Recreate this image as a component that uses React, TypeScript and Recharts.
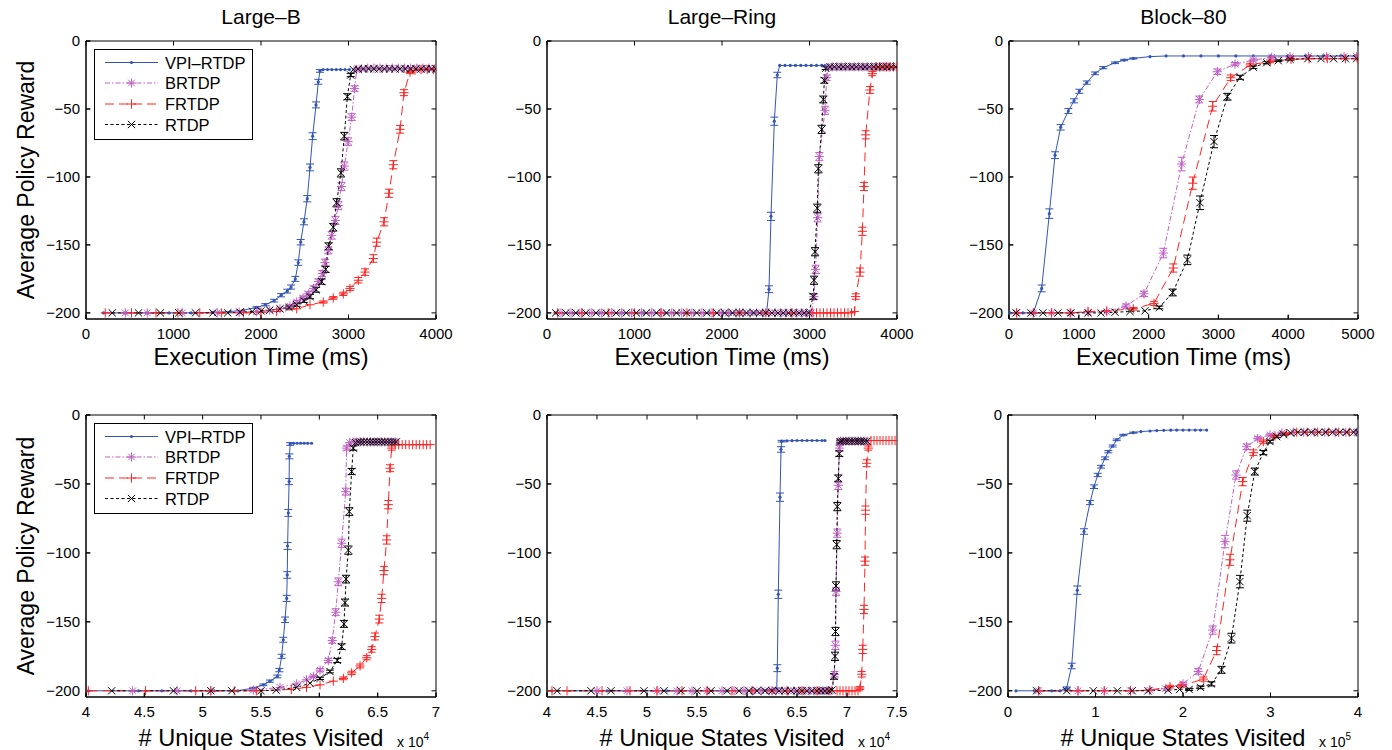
import { LineChart, Line, XAxis, YAxis, ErrorBar, Legend, ReferenceArea, ReferenceLine } from "recharts";

type Row = [number, number, number?];

const FONT = "'Liberation Sans', Arial, Helvetica, sans-serif";

const seriesNames = ["VPI–RTDP", "BRTDP", "FRTDP", "RTDP"];
const panelTitles = ["Large–B", "Large–Ring", "Block–80"];
const timeLabel = "Execution Time (ms)";
const statesLabel = "# Unique States Visited";
const rewardLabel = "Average Policy Reward";

const yTicks = [-200, -150, -100, -50, 0];
const xTicksTime4k = [0, 1000, 2000, 3000, 4000];
const xTicksTime5k = [0, 1000, 2000, 3000, 4000, 5000];
const xTicksLargeB = [4, 4.5, 5, 5.5, 6, 6.5, 7];
const xTicksRing = [4, 4.5, 5, 5.5, 6, 6.5, 7, 7.5];
const xTicksBlock = [0, 1, 2, 3, 4];

// ---- Large-B, time (ms)  [x, reward, err]
const lbTimeVpi: Row[] = [
  [200, -200], [450, -200], [700, -200], [950, -200], [1200, -200], [1450, -199.6], [1650, -199], [1800, -198],
  [1950, -196, 0.6], [2050, -194, 0.8], [2150, -191, 1], [2230, -187, 1.2], [2300, -184, 1.4], [2343, -181, 1.5],
  [2392, -175, 1.8], [2426, -163, 2], [2453, -148, 2], [2491, -133, 2.2], [2529, -116, 2.3], [2560, -93, 2.5],
  [2590, -70, 2.5], [2629, -47, 2.2], [2655, -30, 1.8], [2674, -22, 1], [2710, -21], [2760, -21], [2810, -21],
  [2860, -21], [2910, -21], [2960, -21], [3010, -21],
];
const lbTimeBrtdp: Row[] = [
  [450, -200], [700, -200], [1100, -200], [1500, -200], [1750, -199.5], [1950, -199], [2100, -198], [2217, -197],
  [2330, -195, 1], [2408, -192, 1.2], [2480, -189, 1.4], [2541, -186, 1.6], [2600, -182, 1.8], [2655, -177, 2],
  [2700, -171, 2.2], [2731, -163, 2.5], [2770, -154, 2.6], [2808, -143, 2.8], [2850, -132, 3], [2884, -121, 3],
  [2920, -107, 3], [2952, -92, 3], [2995, -74, 2.8], [3036, -56, 2.5], [3070, -35, 2], [3093, -21, 1],
  [3150, -20.5], [3220, -20], [3290, -20], [3360, -20], [3430, -20], [3500, -20], [3570, -20], [3640, -20],
  [3710, -20], [3780, -20], [3850, -20], [3920, -20], [3990, -20],
];
const lbTimeFrtdp: Row[] = [
  [220, -200], [520, -200], [800, -200], [1050, -200], [1300, -200], [1550, -200], [1800, -200], [2000, -199.5],
  [2179, -199], [2408, -197], [2560, -194], [2712, -192, 0.8], [2826, -189, 1], [2941, -186, 1.2], [3017, -182, 1.5],
  [3112, -176, 2], [3189, -170, 2.4], [3284, -160, 2.8], [3322, -148, 3], [3406, -133, 3], [3463, -112, 3],
  [3512, -91, 3], [3589, -65, 2.8], [3634, -38, 2.2], [3703, -23, 1], [3760, -21.5], [3830, -21], [3900, -21],
  [3970, -21],
];
const lbTimeRtdp: Row[] = [
  [300, -200], [600, -200], [850, -200], [1060, -200], [1250, -200], [1450, -200], [1620, -200], [1760, -199.5],
  [1900, -199], [2000, -198.5], [2100, -198], [2217, -197], [2320, -196, 1], [2408, -194, 1.2], [2490, -191, 1.4],
  [2560, -188, 1.6], [2630, -183, 1.8], [2693, -177, 2], [2739, -168, 2.2], [2773, -151, 2.5], [2826, -137, 2.8],
  [2864, -119, 3], [2914, -97, 3], [2952, -70, 2.8], [2987, -41, 2.2], [3025, -25, 1.2], [3055, -21],
  [3110, -20.5], [3170, -20.5], [3230, -20.5], [3290, -20.5], [3350, -20.5], [3410, -20.5], [3470, -20.5],
  [3530, -20.5], [3590, -20.5], [3650, -20.5], [3710, -20.5], [3770, -20.5], [3830, -20.5], [3890, -20.5],
  [3950, -20.5], [4000, -20.5],
];

// ---- Large-Ring, time (ms)
const lrTimeVpi: Row[] = [
  [100, -200], [350, -200], [600, -200], [850, -200], [1100, -200], [1350, -200], [1600, -200], [1850, -200],
  [2100, -200], [2350, -200], [2510, -200], [2537, -182.6, 2.5], [2560, -129, 3], [2598, -59, 3], [2632, -25, 2],
  [2660, -18], [2720, -18], [2780, -18], [2840, -18], [2900, -18], [2960, -18], [3020, -18], [3080, -18],
  [3140, -18], [3180, -18],
];
const lrTimeBrtdp: Row[] = [
  [160, -200], [275, -200], [390, -200], [505, -200], [620, -200], [735, -200], [850, -200], [965, -200],
  [1080, -200], [1195, -200], [1310, -200], [1425, -200], [1540, -200], [1655, -200], [1770, -200], [1885, -200],
  [1990, -200], [2075, -200], [2160, -200], [2240, -200], [2320, -200], [2395, -200], [2465, -200], [2535, -200],
  [2605, -200], [2670, -200], [2730, -200], [2790, -200], [2850, -200], [2910, -200], [2965, -200], [3020, -200],
  [3051, -188, 2], [3070, -168, 3], [3093, -130, 3], [3112, -85, 3], [3177, -51, 3], [3196, -27, 2],
  [3215, -19.5, 1], [3260, -19], [3310, -19], [3360, -19], [3410, -19], [3460, -19], [3510, -19], [3560, -19],
  [3610, -19], [3660, -19], [3710, -19], [3760, -19], [3810, -19], [3860, -19], [3910, -19], [3960, -19],
];
const lrTimeFrtdp: Row[] = [
  [120, -200], [400, -200], [700, -200], [1000, -200], [1300, -200], [1600, -200], [1900, -200], [2200, -200],
  [2500, -200], [2800, -200], [3040, -200], [3080, -200], [3120, -200], [3160, -200], [3200, -200], [3240, -200],
  [3280, -200], [3320, -200], [3360, -200], [3400, -200], [3440, -200], [3480, -200], [3515, -199],
  [3528, -188, 2], [3577, -170, 3], [3604, -140, 3], [3623, -107, 3], [3642, -69, 3], [3691, -36, 2.5],
  [3718, -24, 1.5], [3760, -19], [3800, -19], [3840, -19], [3880, -19], [3920, -19], [3960, -19], [3995, -19],
];
const lrTimeRtdp: Row[] = [
  [100, -200], [215, -200], [330, -200], [445, -200], [560, -200], [675, -200], [790, -200], [905, -200],
  [1020, -200], [1135, -200], [1250, -200], [1365, -200], [1480, -200], [1595, -200], [1710, -200], [1825, -200],
  [1940, -200], [2030, -200], [2120, -200], [2200, -200], [2280, -200], [2360, -200], [2430, -200], [2500, -200],
  [2570, -200], [2640, -200], [2700, -200], [2760, -200], [2820, -200], [2880, -200], [2940, -200], [2990, -200],
  [3043, -188, 2], [3051, -176, 3], [3063, -155, 3], [3089, -123, 3], [3101, -94, 3], [3139, -65, 3],
  [3158, -43, 2.5], [3170, -29, 2], [3185, -20, 1], [3235, -19], [3285, -19], [3335, -19], [3385, -19],
  [3435, -19], [3485, -19], [3535, -19], [3585, -19], [3635, -19], [3685, -19], [3735, -19], [3785, -19],
  [3835, -19], [3885, -19], [3935, -19], [3985, -19],
];

// ---- Block-80, time (ms)
const blTimeVpi: Row[] = [
  [14, -200], [200, -200], [348, -200, 0.5], [468, -182, 2.5], [578, -127, 3.5], [659, -84, 2.5], [740, -63.5, 2],
  [850, -51.5, 1.8], [931, -44, 1.5], [1008, -37, 1.5], [1113, -30.6, 1.2], [1232, -23.8, 1], [1351, -19.6, 0.8],
  [1519, -16, 0.6], [1650, -14, 0.5], [1781, -12.8, 0.4], [2020, -11.5], [2250, -11], [2500, -11], [2750, -11],
  [3000, -11], [3250, -11], [3500, -11], [3750, -11], [4000, -11], [4250, -11], [4500, -11], [4750, -11],
  [4970, -11],
];
const blTimeBrtdp: Row[] = [
  [110, -200], [350, -200], [612, -200], [874, -200], [1136, -199.5], [1400, -199], [1676, -195, 1.5],
  [1934, -186, 2], [2211, -156, 3.5], [2474, -90.5, 5], [2727, -43, 2.5], [2985, -22.6, 2], [3238, -17, 1.2],
  [3501, -14, 0.8], [3764, -12, 0.6], [4026, -11.6, 0.5], [4290, -11.5], [4550, -11.5], [4800, -11.5],
  [4980, -11.5],
];
const blTimeFrtdp: Row[] = [
  [110, -200], [348, -200], [610, -200], [884, -200], [1131, -199], [1400, -198.5], [1781, -197, 1],
  [2077, -193, 1.5], [2354, -167, 3], [2632, -104.6, 4.5], [2918, -48, 3.5], [3176, -27, 2], [3456, -17.6, 1.2],
  [3742, -15, 1], [4040, -13.5, 0.6], [4300, -13], [4560, -13], [4820, -13], [4990, -13],
];
const blTimeRtdp: Row[] = [
  [100, -200], [315, -200], [487, -200], [702, -200], [888, -200], [1132, -200], [1318, -200], [1519, -199.5],
  [1734, -199], [1948, -198.5], [2154, -196, 1], [2345, -185, 2.5], [2555, -161, 3.5], [2736, -119, 5],
  [2937, -74, 4.5], [3128, -41, 2.5], [3310, -26.7, 1.5], [3500, -19.3, 1], [3691, -16, 0.8], [3858, -14.5, 0.6],
  [4028, -13.5, 0.5], [4280, -13], [4470, -13], [4650, -13], [4820, -13], [4980, -13],
];

// ---- Large-B, unique states (x 10^4)
const lbStatesVpi: Row[] = [
  [4.02, -200], [4.45, -200], [4.65, -200], [4.9, -200], [5.1, -200], [5.3, -200], [5.434, -198, 0.5],
  [5.52, -195.7, 0.6], [5.577, -193, 0.8], [5.64, -189.6, 1], [5.657, -185, 1.2], [5.677, -175, 1.5],
  [5.691, -163, 1.8], [5.706, -148.5, 2], [5.72, -133, 2.2], [5.725, -116, 2.4], [5.728, -95, 2.5],
  [5.734, -71, 2.5], [5.741, -48.3, 2.2], [5.743, -30, 1.8], [5.75, -21, 1], [5.78, -20.5], [5.81, -20.5],
  [5.84, -20.5], [5.87, -20.5], [5.9, -20.5], [5.934, -20.5],
];
const lbStatesBrtdp: Row[] = [
  [4.4, -200], [4.78, -200], [5.07, -200], [5.434, -199.5], [5.663, -197.5], [5.806, -195], [5.89, -192],
  [5.949, -189.6, 1], [6.006, -185, 1.2], [6.077, -178, 1.5], [6.111, -163.5, 2], [6.14, -143, 2.5],
  [6.163, -121, 2.8], [6.191, -93, 3], [6.226, -55.6, 2.5], [6.234, -24, 1.5], [6.26, -20], [6.29, -19.5],
  [6.32, -19.5], [6.35, -19.5], [6.38, -19.5], [6.41, -19.5], [6.44, -19.5], [6.47, -19.5], [6.5, -19.5],
  [6.53, -19.5], [6.56, -19.5], [6.59, -19.5], [6.62, -19.5], [6.65, -19.5],
];
const lbStatesFrtdp: Row[] = [
  [4.02, -200], [4.51, -200], [4.94, -200], [5.07, -200], [5.27, -200], [5.46, -200], [5.76, -199],
  [5.89, -197.5], [6.006, -195.7], [6.12, -193], [6.206, -191, 1], [6.277, -187, 1.2], [6.349, -182, 1.4],
  [6.406, -176, 1.5], [6.449, -170, 2], [6.477, -160.6, 2.5], [6.514, -148, 2.8], [6.534, -133, 3],
  [6.554, -112.8, 3], [6.577, -90.6, 3], [6.591, -65, 3], [6.606, -38.6, 2.5], [6.62, -24, 1.5], [6.65, -21.5],
  [6.68, -21.5], [6.71, -21.5], [6.74, -21.5], [6.77, -21.5], [6.8, -21.5], [6.83, -21.5], [6.86, -21.5],
  [6.89, -21.5], [6.92, -21.5], [6.95, -21.5],
];
const lbStatesRtdp: Row[] = [
  [4.22, -200], [4.75, -200], [5.07, -200], [5.25, -200], [5.5, -200], [5.63, -199.5], [5.806, -197.5],
  [5.92, -194.5], [6.006, -191, 0.8], [6.091, -186, 1], [6.154, -178, 1.5], [6.191, -168, 2], [6.211, -151.5, 2.5],
  [6.22, -136, 2.5], [6.229, -119, 2.8], [6.249, -98, 3], [6.257, -70, 2.8], [6.277, -41, 2.2], [6.291, -24, 1.5],
  [6.31, -20], [6.335, -19.5], [6.36, -19.5], [6.385, -19.5], [6.41, -19.5], [6.435, -19.5], [6.46, -19.5],
  [6.485, -19.5], [6.51, -19.5], [6.535, -19.5], [6.56, -19.5], [6.585, -19.5], [6.61, -19.5], [6.635, -19.5],
  [6.66, -19.5],
];

// ---- Large-Ring, unique states (x 10^4)
const lrStatesVpi: Row[] = [
  [4.05, -200], [4.6, -200], [5.2, -200], [5.8, -200], [6.297, -199, 1], [6.303, -183.6, 2.5], [6.313, -130, 3],
  [6.33, -59.6, 3], [6.34, -25, 2], [6.347, -19, 0.6], [6.4, -18.7], [6.45, -18.6], [6.5, -18.5], [6.55, -18.5],
  [6.6, -18.5], [6.65, -18.5], [6.7, -18.5], [6.75, -18.5], [6.78, -18.5],
];
const lrStatesBrtdp: Row[] = [
  [4.5, -200], [4.8, -200], [5.1, -200], [5.3, -200], [5.45, -200], [5.6, -200], [5.75, -200], [5.87, -200],
  [5.97, -200], [6.06, -200], [6.14, -200], [6.22, -200], [6.29, -200], [6.35, -200], [6.41, -200], [6.47, -200],
  [6.52, -200], [6.57, -200], [6.62, -200], [6.67, -200], [6.72, -200], [6.76, -200], [6.8, -200], [6.84, -200],
  [6.875, -188, 2], [6.885, -167, 3], [6.89, -128, 3], [6.903, -85.7, 3], [6.913, -51, 3], [6.923, -24, 2],
  [6.935, -19, 1], [6.96, -19], [6.99, -19], [7.02, -19], [7.05, -19], [7.08, -19], [7.11, -19], [7.14, -19],
  [7.17, -19], [7.2, -19],
];
const lrStatesFrtdp: Row[] = [
  [4.05, -200], [4.2, -200], [4.55, -200], [4.83, -200], [5.1, -200], [5.35, -200], [5.6, -200], [5.85, -200],
  [6.05, -200], [6.25, -200], [6.4, -200], [6.55, -200], [6.7, -200], [6.82, -200], [6.9, -200], [6.93, -200],
  [6.96, -200], [6.99, -200], [7.02, -200], [7.05, -200], [7.08, -200], [7.11, -200],
  [7.13, -198, 1], [7.147, -188, 2], [7.157, -170, 3], [7.17, -141, 3], [7.18, -106, 3],
  [7.185, -69, 3], [7.197, -35, 2.5], [7.213, -24, 1.5], [7.24, -18.5], [7.27, -18.5], [7.3, -18.5],
  [7.33, -18.5], [7.36, -18.5], [7.39, -18.5], [7.42, -18.5], [7.45, -18.5], [7.48, -18.5],
];
const lrStatesRtdp: Row[] = [
  [4.1, -200], [4.44, -200], [4.64, -200], [4.97, -200], [5.17, -200], [5.34, -200], [5.5, -200], [5.64, -200],
  [5.8, -200], [5.92, -200], [6.02, -200], [6.1, -200], [6.18, -200], [6.25, -200], [6.32, -200], [6.38, -200],
  [6.44, -200], [6.5, -200], [6.55, -200], [6.6, -200], [6.65, -200], [6.7, -200], [6.74, -200], [6.78, -200],
  [6.82, -200], [6.85, -199.5], [6.87, -189.6, 2], [6.88, -175, 3], [6.885, -157, 3], [6.89, -124, 3],
  [6.897, -94, 3], [6.903, -66.4, 3], [6.913, -46, 2.5], [6.923, -28, 2], [6.93, -19.3, 1], [6.95, -19],
  [6.975, -19], [7.0, -19], [7.025, -19], [7.05, -19], [7.075, -19], [7.1, -19], [7.125, -19], [7.15, -19],
  [7.175, -19], [7.2, -19],
];

// ---- Block-80, unique states (x 10^5)
const blStatesVpi: Row[] = [
  [0.091, -200], [0.3, -200], [0.5, -200], [0.594, -200], [0.67, -198, 0.8], [0.728, -182, 2], [0.792, -127, 3],
  [0.869, -84.5, 2], [0.937, -63.5, 1.5], [0.983, -52, 1.3], [1.025, -43.5, 1.2], [1.063, -37.5, 1],
  [1.109, -31.4, 1], [1.147, -26.6, 0.8], [1.196, -22.5, 0.7], [1.242, -18, 0.6], [1.318, -14.5, 0.5],
  [1.432, -12.8, 0.4], [1.52, -12], [1.623, -11.6], [1.7, -11.3], [1.78, -11.1], [1.86, -11], [1.928, -10.9],
  [2.0, -10.9], [2.07, -10.9], [2.14, -10.9], [2.2, -10.9], [2.27, -10.9],
];
const blStatesBrtdp: Row[] = [
  [0.35, -200], [0.8, -200], [1.1, -200], [1.4, -200], [1.62, -199.5], [1.8, -198.5], [2.0, -195, 1.2],
  [2.174, -186, 2], [2.339, -156, 3], [2.48, -91.8, 4.5], [2.606, -43.5, 3], [2.728, -23, 2], [2.854, -17, 1.2],
  [2.994, -14.5, 0.8], [3.13, -13, 0.6], [3.26, -12.5], [3.38, -12.5], [3.5, -12.5], [3.62, -12.5],
  [3.74, -12.5], [3.86, -12.5], [3.98, -12.5],
];
const blStatesFrtdp: Row[] = [
  [0.35, -200], [0.8, -200], [1.1, -200], [1.4, -200], [1.62, -199.5], [1.851, -197, 1], [1.98, -196.5, 1],
  [2.232, -191.5, 1.5], [2.385, -170.8, 3], [2.537, -105, 4], [2.682, -48.3, 3], [2.804, -27.3, 2],
  [2.918, -19.3, 1.2], [3.051, -15.2, 0.8], [3.18, -13.5, 0.6], [3.3, -12.5], [3.42, -12.5], [3.54, -12.5],
  [3.66, -12.5], [3.78, -12.5], [3.9, -12.5],
];
const blStatesRtdp: Row[] = [
  [0.327, -200], [0.67, -200], [0.975, -200], [1.25, -200], [1.42, -200], [1.6, -200], [1.83, -199.5],
  [1.96, -199], [2.07, -199, 0.8], [2.2, -197.5, 1], [2.325, -195, 1.5], [2.44, -184.8, 2.5], [2.554, -161.8, 3.5],
  [2.65, -120.8, 4.5], [2.734, -73, 4], [2.82, -41, 2.5], [2.918, -27.3, 1.5], [2.994, -19.3, 1],
  [3.07, -15.7, 0.8], [3.15, -14, 0.6], [3.23, -13], [3.31, -12.5], [3.39, -12.5], [3.47, -12.5], [3.55, -12.5],
  [3.63, -12.5], [3.71, -12.5], [3.79, -12.5], [3.87, -12.5], [3.95, -12.5], [4.0, -12.5],
];

const STYLES = [
  { color: "#3455b5", dash: undefined as string | undefined, marker: "dot" },
  { color: "#c060c4", dash: "5 2 1.5 2", marker: "star" },
  { color: "#ff2424", dash: "9 5", marker: "plus" },
  { color: "#000000", dash: "3 2.5", marker: "cross" },
];

const PANELS = [
  { id: "p1", left: 86, top: 41, w: 350, h: 278, dom: [0, 4000], ticks: xTicksTime4k, title: panelTitles[0], xl: timeLabel, exp: "", yl: true, legend: true, lblDy: 46, rows: [lbTimeVpi, lbTimeBrtdp, lbTimeFrtdp, lbTimeRtdp] },
  { id: "p2", left: 547, top: 41, w: 350, h: 278, dom: [0, 4000], ticks: xTicksTime4k, title: panelTitles[1], xl: timeLabel, exp: "", yl: false, legend: false, lblDy: 46, rows: [lrTimeVpi, lrTimeBrtdp, lrTimeFrtdp, lrTimeRtdp] },
  { id: "p3", left: 1009, top: 41, w: 349, h: 278, dom: [0, 5000], ticks: xTicksTime5k, title: panelTitles[2], xl: timeLabel, exp: "", yl: false, legend: false, lblDy: 46, rows: [blTimeVpi, blTimeBrtdp, blTimeFrtdp, blTimeRtdp] },
  { id: "p4", left: 86, top: 415, w: 350, h: 282, dom: [4, 7], ticks: xTicksLargeB, title: "", xl: statesLabel, exp: "4", yl: true, legend: true, lblDy: 49, rows: [lbStatesVpi, lbStatesBrtdp, lbStatesFrtdp, lbStatesRtdp] },
  { id: "p5", left: 547, top: 415, w: 350, h: 282, dom: [4, 7.5], ticks: xTicksRing, title: "", xl: statesLabel, exp: "4", yl: false, legend: false, lblDy: 49, rows: [lrStatesVpi, lrStatesBrtdp, lrStatesFrtdp, lrStatesRtdp] },
  { id: "p6", left: 1008, top: 415, w: 350, h: 282, dom: [0, 4], ticks: xTicksBlock, title: "", xl: statesLabel, exp: "5", yl: false, legend: false, lblDy: 49, rows: [blStatesVpi, blStatesBrtdp, blStatesFrtdp, blStatesRtdp] },
];

const Y_DOMAIN = [-204.5, 0];
const AXIS_LINE = { stroke: "#000", strokeWidth: 1 };
const TICK_PX = 4.5;

function fmt(v: number) {
  return v < 0 ? "\u2212" + Math.abs(v) : String(v);
}

function Mark({ cx, cy, kind, color }: any) {
  if (cx == null || cy == null || Number.isNaN(cx) || Number.isNaN(cy)) return <g />;
  if (kind === "dot") return <circle cx={cx} cy={cy} r={1.6} fill={color} />;
  const s = kind === "cross" ? 3.6 : 4.6;
  const d = s * 0.72;
  let path = "";
  if (kind === "plus") path = `M${cx - s} ${cy}H${cx + s}M${cx} ${cy - s}V${cy + s}`;
  else if (kind === "cross") path = `M${cx - s} ${cy - s}L${cx + s} ${cy + s}M${cx - s} ${cy + s}L${cx + s} ${cy - s}`;
  else path = `M${cx - s} ${cy}H${cx + s}M${cx} ${cy - s}V${cy + s}M${cx - d} ${cy - d}L${cx + d} ${cy + d}M${cx - d} ${cy + d}L${cx + d} ${cy - d}`;
  return <path d={path} stroke={color} strokeWidth={1} fill="none" />;
}

function LegendBox() {
  const rowsY = [13.5, 34, 55, 75.5];
  return (
    <svg width={159} height={91} style={{ display: "block" }}>
      <rect x={0.5} y={0.5} width={158} height={90} fill="#fff" stroke="#000" strokeWidth={1} />
      {seriesNames.map((n, i) => (
        <g key={n}>
          <line x1={11} x2={64} y1={rowsY[i]} y2={rowsY[i]} stroke={STYLES[i].color} strokeDasharray={STYLES[i].dash} strokeWidth={1} />
          <Mark cx={37.5} cy={rowsY[i]} kind={STYLES[i].marker} color={STYLES[i].color} />
          <text x={71} y={rowsY[i]} dominantBaseline="central" fontSize={16.5} fontFamily={FONT} fill="#000">
            {n}
          </text>
        </g>
      ))}
    </svg>
  );
}

function Panel({ p }: { p: (typeof PANELS)[number] }) {
  const W = p.w + 105;
  const H = p.h + 96;
  const tickStyle = { fill: "#000", fontSize: 15, fontFamily: FONT };
  // inward tick length converted to data units of each axis
  const dy = (TICK_PX * (Y_DOMAIN[1] - Y_DOMAIN[0])) / p.h;
  const dx = (TICK_PX * (p.dom[1] - p.dom[0])) / p.w;
  return (
    <div style={{ position: "absolute", left: p.left - 80, top: p.top - 41, width: W, height: H }}>
      <LineChart width={W} height={H} margin={{ top: 41, right: 25, bottom: 0, left: 0 }}>
        <XAxis
          xAxisId="b"
          dataKey="x"
          type="number"
          domain={p.dom}
          ticks={p.ticks}
          interval={0}
          allowDataOverflow
          height={55}
          tickSize={-4}
          tickMargin={13}
          stroke="#000"
          axisLine={AXIS_LINE}
          tickLine={AXIS_LINE}
          tick={tickStyle}
          tickFormatter={fmt}
          label={{
            content: (lp: any) => {
              const vb = lp.viewBox;
              const base = vb.y + p.lblDy;
              return (
                <g>
                  {p.title && (
                    <text x={vb.x + vb.width / 2} y={vb.y - p.h - 17} textAnchor="middle" fontSize={21} fontFamily={FONT} fill="#000">
                      {p.title}
                    </text>
                  )}
                  <text x={vb.x + vb.width / 2} y={base} textAnchor="middle" fontSize={23.6} fontFamily={FONT} fill="#000">
                    {p.xl}
                  </text>
                  {p.exp && (
                    <text x={vb.x + vb.width - 39} y={base + 1} fontSize={14} fontFamily={FONT} fill="#000">
                      x 10
                      <tspan dy={-7} fontSize={10}>
                        {p.exp}
                      </tspan>
                    </text>
                  )}
                </g>
              );
            },
          }}
        />
        <XAxis
          xAxisId="t"
          orientation="top"
          type="number"
          domain={p.dom}
          ticks={p.ticks}
          interval={0}
          allowDataOverflow
          height={0}
          tickSize={-4}
          stroke="#000"
          axisLine={AXIS_LINE}
          tickLine={AXIS_LINE}
          tick={false}
        />
        <YAxis
          yAxisId="l"
          type="number"
          domain={Y_DOMAIN}
          ticks={yTicks}
          interval={0}
          allowDataOverflow
          width={80}
          tickSize={-4}
          tickMargin={10}
          stroke="#000"
          axisLine={AXIS_LINE}
          tickLine={AXIS_LINE}
          tick={tickStyle}
          tickFormatter={fmt}
          label={{
            content: (lp: any) => {
              const vb = lp.viewBox;
              if (!p.yl) return <g />;
              const x = vb.x + vb.width - 52;
              const y = vb.y + vb.height / 2;
              return (
                <text x={x} y={y} transform={`rotate(-90 ${x} ${y})`} textAnchor="middle" fontSize={23} fontFamily={FONT} fill="#000">
                  {rewardLabel}
                </text>
              );
            },
          }}
        />
        <YAxis
          yAxisId="r"
          orientation="right"
          type="number"
          domain={Y_DOMAIN}
          ticks={yTicks}
          interval={0}
          allowDataOverflow
          width={0}
          tickSize={-4}
          stroke="#000"
          axisLine={AXIS_LINE}
          tickLine={AXIS_LINE}
          tick={false}
        />
        <ReferenceArea
          xAxisId="b"
          yAxisId="l"
          x1={p.dom[0]}
          x2={p.dom[1]}
          y1={Y_DOMAIN[0]}
          y2={Y_DOMAIN[1]}
          fill="none"
          fillOpacity={0}
          stroke="#000"
          strokeWidth={1}
          ifOverflow="visible"
        />
        {p.ticks.map((t) => (
          <ReferenceLine
            key={`bt-${t}`}
            xAxisId="b"
            yAxisId="l"
            segment={[{ x: t, y: Y_DOMAIN[0] }, { x: t, y: Y_DOMAIN[0] + dy }]}
            stroke="#000"
            strokeWidth={1}
            ifOverflow="visible"
          />
        ))}
        {p.ticks.map((t) => (
          <ReferenceLine
            key={`tt-${t}`}
            xAxisId="b"
            yAxisId="l"
            segment={[{ x: t, y: Y_DOMAIN[1] }, { x: t, y: Y_DOMAIN[1] - dy }]}
            stroke="#000"
            strokeWidth={1}
            ifOverflow="visible"
          />
        ))}
        {yTicks.map((t) => (
          <ReferenceLine
            key={`lt-${t}`}
            xAxisId="b"
            yAxisId="l"
            segment={[{ x: p.dom[0], y: t }, { x: p.dom[0] + dx, y: t }]}
            stroke="#000"
            strokeWidth={1}
            ifOverflow="visible"
          />
        ))}
        {yTicks.map((t) => (
          <ReferenceLine
            key={`rt-${t}`}
            xAxisId="b"
            yAxisId="l"
            segment={[{ x: p.dom[1], y: t }, { x: p.dom[1] - dx, y: t }]}
            stroke="#000"
            strokeWidth={1}
            ifOverflow="visible"
          />
        ))}
        {p.rows.map((rows, i) => {
          const st = STYLES[i];
          const data = rows.map(([x, y, e]) => ({ x, y, e }));
          return (
            <Line
              key={`${p.id}-${i}`}
              xAxisId="b"
              yAxisId="l"
              data={data}
              dataKey="y"
              name={seriesNames[i]}
              type="linear"
              stroke={st.color}
              strokeWidth={1}
              strokeDasharray={st.dash}
              isAnimationActive={false}
              activeDot={false}
              dot={(dp: any) => (
                <Mark key={`${p.id}-${i}-${dp.index}`} cx={dp.cx} cy={dp.cy} kind={st.marker} color={st.color} />
              )}
            >
              <ErrorBar dataKey="e" direction="y" width={4} stroke={st.color} strokeWidth={1} isAnimationActive={false} />
            </Line>
          );
        })}
        {p.legend && (
          <Legend
            layout="vertical"
            align="center"
            verticalAlign="middle"
            wrapperStyle={{ left: 88, top: 49, width: 159, height: 91 }}
            content={() => <LegendBox />}
          />
        )}
      </LineChart>
    </div>
  );
}

export default function App() {
  return (
    <div
      style={{
        position: "absolute",
        left: 0,
        top: 0,
        width: 1392,
        height: 750,
        overflow: "hidden",
        background: "#fff",
        fontFamily: FONT,
      }}
    >
      {PANELS.map((p) => (
        <Panel key={p.id} p={p} />
      ))}
    </div>
  );
}
